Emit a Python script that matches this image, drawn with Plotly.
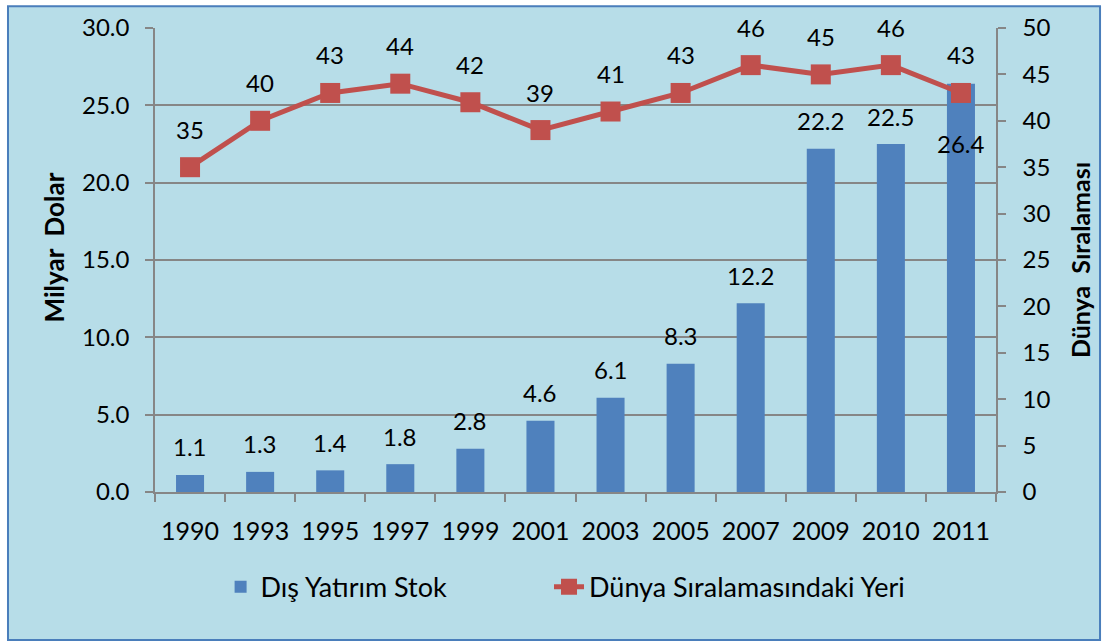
import plotly.graph_objects as go

years = ["1990", "1993", "1995", "1997", "1999", "2001", "2003", "2005", "2007", "2009", "2010", "2011"]
stock = [1.1, 1.3, 1.4, 1.8, 2.8, 4.6, 6.1, 8.3, 12.2, 22.2, 22.5, 26.4]
rank = [35, 40, 43, 44, 42, 39, 41, 43, 46, 45, 46, 43]
bar_name = "Dış Yatırım Stok"
line_name = "Dünya Sıralamasındaki Yeri"
y_title = "Milyar  Dolar"
y2_title = "Dünya  Sıralaması"

FONT = "Lato"
FS = 24
BAR_C = "#4F81BD"
LINE_C = "#C0504D"
BG = "#B7DDE8"
GRID = "#868686"

fig = go.Figure()
fig.add_trace(go.Bar(x=years, y=stock, name=bar_name, marker=dict(color=BAR_C, line=dict(width=0)),
                     width=0.4, yaxis="y", legend="legend"))
fig.add_trace(go.Scatter(x=years, y=rank, name=line_name, mode="lines+markers",
                         line=dict(color=LINE_C, width=5),
                         marker=dict(symbol="square", size=20, color=LINE_C), yaxis="y2",
                         legend="legend2"))

ann = []
for i, v in enumerate(stock):
    shift = 28 if i < len(stock) - 1 else -60
    ann.append(dict(x=i, y=v, xref="x", yref="y", text=f"{v:.1f}", showarrow=False,
                    yshift=shift, font=dict(family=FONT, size=FS, color="black")))
for i, v in enumerate(rank):
    ann.append(dict(x=i, y=v, xref="x", yref="y2", text=str(v), showarrow=False,
                    yshift=38, font=dict(family=FONT, size=FS, color="black")))
ann.append(dict(x=-0.119, y=0.527, xref="paper", yref="paper", xanchor="center", yanchor="middle",
                text=f"<b>{y_title}</b>", textangle=-90,
                showarrow=False, font=dict(family=FONT, size=26, color="black")))
ann.append(dict(x=1.100, y=0.5, xref="paper", yref="paper", xanchor="center", yanchor="middle",
                text=f"<b>{y2_title}</b>", textangle=-90,
                showarrow=False, font=dict(family=FONT, size=25, color="black")))

leg_common = dict(orientation="h", y=-0.205, xanchor="left", yanchor="middle",
                  bgcolor="rgba(0,0,0,0)", font=dict(family=FONT, size=27, color="black"))

fig.update_layout(
    width=1105, height=643,
    margin=dict(l=155, r=109, t=25, b=151),
    paper_bgcolor="white", plot_bgcolor="rgba(0,0,0,0)",
    font=dict(family=FONT, size=FS, color="black"),
    showlegend=True,
    legend=dict(x=0.078, **leg_common),
    legend2=dict(x=0.4685, **leg_common),
    xaxis=dict(type="category", range=[-0.5, len(years) - 0.5], showgrid=False, showline=True,
               linecolor=GRID, linewidth=1.5, tickangle=0,
               ticks="outside", tickson="boundaries", ticklen=8, tickcolor=GRID, tickwidth=1.5,
               tickfont=dict(size=25), ticklabelstandoff=16),
    yaxis=dict(range=[0, 30], dtick=5, tickformat=".1f", showgrid=True, gridcolor=GRID, gridwidth=1.5,
               showline=True, linecolor=GRID, linewidth=1.5, ticks="outside", ticklen=8,
               tickcolor=GRID, tickwidth=1.5, zeroline=False, tickfont=dict(size=FS),
               ticklabelstandoff=11),
    yaxis2=dict(range=[0, 50], dtick=5, overlaying="y", side="right", showgrid=False,
                showline=True, linecolor=GRID, linewidth=1.5, ticks="outside", ticklen=8,
                tickcolor=GRID, tickwidth=1.5, zeroline=False, tickfont=dict(size=FS),
                ticklabelstandoff=12),
    annotations=ann,
    shapes=[dict(type="rect", xref="paper", yref="paper", x0=-0.1748, x1=1.1237, y0=-0.319, y1=1.047,
                 fillcolor=BG, line=dict(color="#4A7EBB", width=2), layer="below")],
)

fig.write_html("out.html", config={"displayModeBar": False},
               post_script="document.body.style.margin='0px';")
